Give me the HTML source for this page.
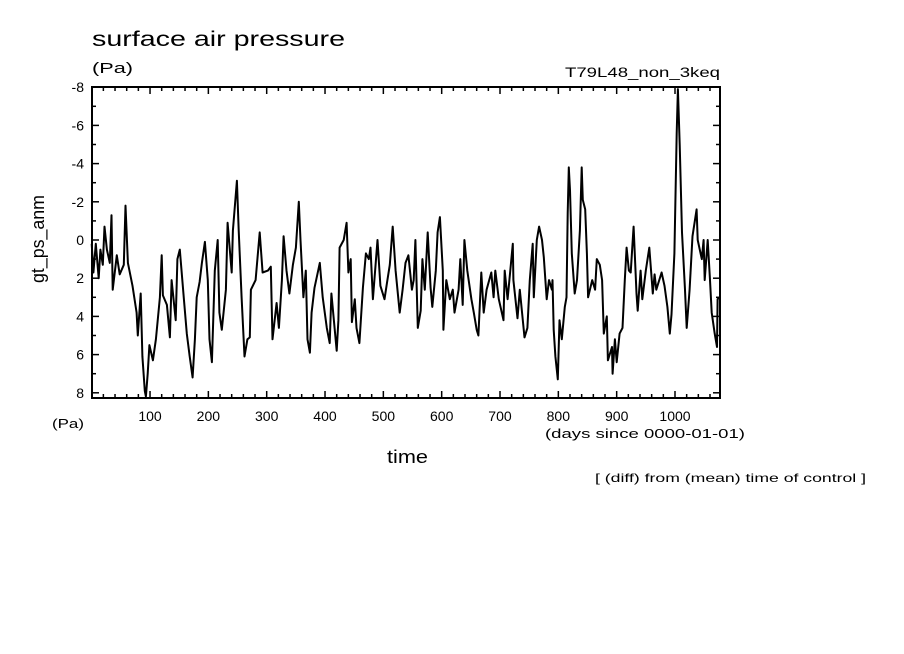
<!DOCTYPE html>
<html><head><meta charset="utf-8">
<style>
html,body{margin:0;padding:0;background:#fff;}
svg{display:block;font-family:"Liberation Sans",sans-serif;}
</style></head>
<body>
<svg id="chart" width="904" height="654" viewBox="0 0 904 654" xmlns="http://www.w3.org/2000/svg">
<rect width="904" height="654" fill="#fff"/>
<text x="92" y="46" font-size="21" textLength="253" lengthAdjust="spacingAndGlyphs">surface air pressure</text>
<text x="92" y="73" font-size="15" textLength="41" lengthAdjust="spacingAndGlyphs">(Pa)</text>
<text x="565" y="77" font-size="14" textLength="155" lengthAdjust="spacingAndGlyphs">T79L48_non_3keq</text>
<text transform="translate(44,283) rotate(-90)" font-size="18" textLength="88" lengthAdjust="spacingAndGlyphs">gt_ps_anm</text>
<text x="52" y="428" font-size="13" textLength="32" lengthAdjust="spacingAndGlyphs">(Pa)</text>
<text x="545" y="438" font-size="13" textLength="200" lengthAdjust="spacingAndGlyphs">(days since 0000-01-01)</text>
<text x="387" y="463" font-size="18" textLength="41" lengthAdjust="spacingAndGlyphs">time</text>
<text x="595" y="482" font-size="12" textLength="271" lengthAdjust="spacingAndGlyphs">[ (diff) from (mean) time of control ]</text>
<g id="axes"></g>
<g id="series"></g>
<rect x="92" y="87" width="628" height="311" fill="none" stroke="#000" stroke-width="2"/>
</svg>
<script>
const days = [0,3,7,12,15,19,22,26,31,34,36,43,48,55,58,62,70,77,79,84,87,91,93,96,99,105,110,117,120,122,129,134,137,144,147,151,158,163,168,173,177,180,185,189,194,199,202,206,211,216,219,223,230,233,240,242,249,252,257,262,267,271,273,281,288,293,302,307,310,317,321,326,329,334,339,345,350,355,358,363,367,370,374,377,382,391,396,403,408,411,420,423,425,432,437,440,444,446,451,454,459,465,470,475,478,482,490,495,502,507,511,516,521,528,533,538,543,549,552,555,559,564,567,571,576,581,584,590,593,597,602,603,608,614,619,622,629,632,636,639,644,651,655,660,663,668,672,677,685,689,692,698,706,708,713,722,723,730,734,739,742,747,751,756,758,763,767,772,775,780,784,789,790,792,795,799,802,806,811,814,816,818,820,823,828,832,837,840,842,846,849,851,858,863,866,871,875,878,883,885,892,893,897,900,905,910,914,917,921,924,929,934,936,941,944,950,956,962,965,968,977,982,987,991,994,999,1003,1005,1008,1012,1017,1020,1025,1030,1037,1039,1046,1049,1051,1056,1060,1063,1068,1072,1073,1077];
const values = [0.2,1.7,0.2,2.0,0.5,1.3,-0.7,0.5,1.2,-1.3,2.6,0.8,1.8,1.3,-1.8,1.2,2.4,3.8,5.0,2.8,6.1,7.9,8.2,7.0,5.5,6.3,5.2,3.0,0.8,2.9,3.4,5.1,2.1,4.2,1.0,0.5,3.1,4.9,6.1,7.2,5.2,3.0,2.2,1.2,0.1,2.1,5.2,6.4,1.6,0,3.8,4.7,2.6,-0.9,1.7,-0.5,-3.1,-0.5,3.0,6.1,5.2,5.1,2.6,2.1,-0.4,1.7,1.6,1.4,5.2,3.3,4.6,2.1,-0.2,1.6,2.8,1.3,0.4,-2.0,0,3.0,1.6,5.2,5.9,3.8,2.5,1.2,3.0,4.6,5.4,2.8,5.8,4.2,0.4,0,-0.9,1.7,1.0,4.3,3.1,4.6,5.4,2.5,0.7,1.0,0.4,3.1,0,2.4,3.1,2.1,1.3,-0.7,1.6,3.8,2.6,1.2,0.8,2.6,2.1,0,4.6,3.7,1.0,2.6,-0.4,2.5,3.5,1.6,-0.4,-1.2,1.6,4.7,2.1,3.1,2.6,3.8,2.6,1.0,3.4,0,1.6,3.1,3.8,4.7,5.0,1.7,3.8,2.6,1.7,3.0,1.6,3.1,4.2,1.6,3.1,0.2,2.1,4.1,2.6,4.2,5.1,4.6,2.1,0.2,3.0,0,-0.7,0,0.9,3.1,2.1,2.6,2.1,4.7,6.1,7.3,4.2,5.2,3.5,3.0,-1.4,-3.8,-2.6,0.7,2.8,2.1,-0.5,-3.8,-2.1,-1.6,0.7,3.0,2.1,2.6,1.0,1.3,2.1,4.9,4.0,6.3,5.6,7.0,5.2,6.4,4.9,4.6,2.1,0.4,1.6,1.7,-0.7,2.8,3.7,1.6,3.1,1.6,0.4,2.8,1.8,2.6,1.7,2.4,3.5,4.9,3.9,0.7,-5.6,-7.9,-5.0,-0.4,2.5,4.6,2.6,-0.2,-1.6,0,1.0,0,2.1,0,2.1,3.8,4.9,5.6,3.1,3.0];
const yTicks = [-8,-6,-4,-2,0,2,4,6,8];
const xTicks = [100,200,300,400,500,600,700,800,900,1000];

const NS = "http://www.w3.org/2000/svg";
const X0 = 92, X1 = 720, Y0 = 87, Y1 = 398;
const dayPx = 0.5833;
function xs(d){ return 91.7 + d * dayPx; }
function ys(v){ return 240 + v * 19.1; }

const axes = document.getElementById('axes');
function line(x1,y1,x2,y2,w){
  const l = document.createElementNS(NS,'line');
  l.setAttribute('x1',x1);l.setAttribute('y1',y1);l.setAttribute('x2',x2);l.setAttribute('y2',y2);
  l.setAttribute('stroke','#000');l.setAttribute('stroke-width',w||1);
  return l;
}
for(let v=-8; v<=8; v++){
  const y = ys(v);
  const len = (v%2===0)?7:4;
  const t1 = line(X0,y,X0+len,y,1.5);
  
  
  axes.appendChild(t1);
  const t2 = line(X1-len,y,X1,y,1.5);
  
  
  axes.appendChild(t2);
}
yTicks.forEach(v=>{
  const t = document.createElementNS(NS,'text');
  t.setAttribute('x',84);t.setAttribute('y',ys(v)+5);
  t.setAttribute('text-anchor','end');t.setAttribute('font-size','14');
  t.textContent = v;
  
  
  axes.appendChild(t);
});
for(let d=20; d<1080; d+=20){
  const x = xs(d);
  const len = (d%100===0)?7:4;
  const b = line(x,Y1-len,x,Y1,1.5);
  
  
  axes.appendChild(b);
  const t = line(x,Y0,x,Y0+len,1.5);
  
  
  axes.appendChild(t);
}
xTicks.forEach(d=>{
  const t = document.createElementNS(NS,'text');
  t.setAttribute('x',xs(d));t.setAttribute('y',421);
  t.setAttribute('text-anchor','middle');t.setAttribute('font-size','14');
  t.setAttribute('textLength', String(d).length*7.8);
  t.setAttribute('lengthAdjust','spacingAndGlyphs');
  t.textContent = d;
  
  
  axes.appendChild(t);
});
const pts = days.map((d,i)=>xs(d).toFixed(1)+','+Math.min(Y1,ys(values[i])).toFixed(1)).join(' ');
const pl = document.createElementNS(NS,'polyline');
pl.setAttribute('points',pts);
pl.setAttribute('fill','none');pl.setAttribute('stroke','#000');pl.setAttribute('stroke-width','2');
pl.setAttribute('stroke-linejoin','round');


document.getElementById('series').appendChild(pl);
</script>
</body></html>
